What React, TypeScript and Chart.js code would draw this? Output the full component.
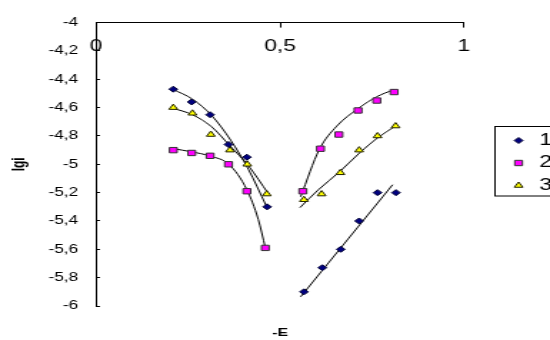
import React, { useEffect, useRef } from "react";
import { Chart, registerables } from "chart.js";
import { drawPoint } from "chart.js/helpers";

Chart.register(...registerables);

// ---- data ----
const seriesNames = ["1", "2", "3"];

const e1 = [0.21, 0.26, 0.31, 0.36, 0.41, 0.465, 0.565, 0.615, 0.665, 0.715, 0.765, 0.815];
const lg1 = [-4.47, -4.56, -4.65, -4.86, -4.95, -5.3, -5.9, -5.73, -5.6, -5.4, -5.2, -5.2];

const e2 = [0.21, 0.26, 0.31, 0.36, 0.41, 0.46, 0.562, 0.61, 0.66, 0.712, 0.763, 0.81];
const lg2 = [-4.9, -4.92, -4.94, -5.0, -5.19, -5.59, -5.19, -4.89, -4.79, -4.62, -4.55, -4.49];

const e3 = [0.21, 0.262, 0.312, 0.364, 0.411, 0.464, 0.565, 0.613, 0.664, 0.715, 0.765, 0.814];
const lg3 = [-4.6, -4.64, -4.79, -4.9, -5.0, -5.21, -5.25, -5.21, -5.06, -4.9, -4.8, -4.73];

// trend lines
const trend1aE = [0.208, 0.262, 0.314, 0.366, 0.414, 0.462];
const trend1aLg = [-4.47, -4.54, -4.655, -4.83, -5.035, -5.29];
const trend1bE = [0.556, 0.806];
const trend1bLg = [-5.935, -5.144];
const trend2aE = [0.208, 0.26, 0.31, 0.361, 0.41, 0.441, 0.46];
const trend2aLg = [-4.889, -4.912, -4.942, -5.0, -5.18, -5.39, -5.588];
const trend2bE = [0.556, 0.607, 0.654, 0.713, 0.763, 0.81];
const trend2bLg = [-5.229, -4.894, -4.731, -4.605, -4.523, -4.472];
const trend3aE = [0.21, 0.262, 0.314, 0.364, 0.414, 0.468];
const trend3aLg = [-4.605, -4.65, -4.735, -4.87, -5.01, -5.206];
const trend3bE = [0.554, 0.604, 0.663, 0.716, 0.767, 0.813];
const trend3bLg = [-5.306, -5.18, -5.05, -4.92, -4.81, -4.731];

const xTicks = [0, 0.5, 1];
const yTicks = [-6, -5.8, -5.6, -5.4, -5.2, -5, -4.8, -4.6, -4.4, -4.2, -4];

const xTitle = "-E";
const yTitle = "lgi";

const FONT = "'Liberation Sans', Arial, sans-serif";

const zip = (xs: number[], ys: number[]) => xs.map((x, i) => ({ x, y: ys[i] }));
const fmt = (v: number) => String(Math.round(v * 10) / 10).replace(".", ",");

const W = 385; // internal canvas width (stretched to 550 px by CSS)
const H = 340;

const legendPlugin = {
  id: "boxLegend",
  afterDraw(chart: any) {
    const ctx = chart.ctx;
    ctx.save();
    ctx.strokeStyle = "#000";
    ctx.lineWidth = 1;
    ctx.strokeRect(346.5, 126.5, 60, 69.5);
    const ys = [140.5, 163, 185.5];
    chart.data.datasets.slice(0, 3).forEach((ds: any, i: number) => {
      ctx.fillStyle = ds.backgroundColor;
      ctx.strokeStyle = ds.borderColor;
      ctx.lineWidth = 1;
      drawPoint(ctx, { pointStyle: ds.pointStyle, radius: ds.pointRadius, borderWidth: 1, rotation: 0 } as any, 363, ys[i]);
      ctx.fillStyle = "#000";
      ctx.font = `16px ${FONT}`;
      ctx.textBaseline = "middle";
      ctx.textAlign = "left";
      ctx.fillText(ds.label, 377.5, ys[i]);
    });
    ctx.restore();
  },
};

export default function App() {
  const ref = useRef<HTMLCanvasElement>(null);

  useEffect(() => {
    const canvas = ref.current;
    if (!canvas) return;
    Chart.defaults.color = "#000";
    Chart.defaults.font.family = FONT;

    const marker = (label: string, data: any[], style: string, radius: number, bg: string, border: string) => ({
      type: "scatter" as const,
      label,
      data,
      pointStyle: style,
      pointRadius: radius,
      pointHoverRadius: radius,
      backgroundColor: bg,
      borderColor: border,
      pointBorderWidth: 1,
      showLine: false,
      order: 0,
      xAxisID: "x",
      yAxisID: "y",
    });
    const trend = (data: any[]) => ({
      type: "line" as const,
      label: "",
      data,
      borderColor: "#000",
      borderWidth: 1,
      pointRadius: 0,
      fill: false,
      cubicInterpolationMode: "monotone" as const,
      order: 1,
      xAxisID: "x",
      yAxisID: "y",
    });

    const chart = new Chart(canvas, {
      type: "scatter",
      data: {
        datasets: [
          marker(seriesNames[0], zip(e1, lg1), "rectRot", 3, "#000080", "#000033"),
          marker(seriesNames[1], zip(e2, lg2), "rect", 3.8, "#FF00FF", "#333333"),
          marker(seriesNames[2], zip(e3, lg3), "triangle", 3.5, "#FFFF00", "#222200"),
          trend(zip(trend1aE, trend1aLg)),
          trend(zip(trend1bE, trend1bLg)),
          trend(zip(trend2aE, trend2aLg)),
          trend(zip(trend2bE, trend2bLg)),
          trend(zip(trend3aE, trend3aLg)),
          trend(zip(trend3bE, trend3bLg)),
        ] as any,
      },
      options: {
        responsive: false,
        animation: false,
        devicePixelRatio: 1,
        layout: { padding: { left: 0, right: W - 324.8, top: 0, bottom: 0 } },
        plugins: { legend: { display: false }, tooltip: { enabled: false }, title: { display: false } },
        scales: {
          x: {
            type: "linear",
            position: "top",
            min: 0,
            max: 1,
            afterBuildTicks: (s: any) => {
              s.ticks = xTicks.map((v) => ({ value: v }));
            },
            ticks: { mirror: true, padding: 14.4, font: { size: 16 }, callback: (v: any) => fmt(Number(v)), maxRotation: 0, autoSkip: false },
            grid: { drawOnChartArea: false, tickLength: -5, color: "#000", lineWidth: 1 },
            border: { color: "#000", width: 1 },
            afterFit: (s: any) => {
              s.height = 18;
            },
          },
          x2: {
            type: "linear",
            position: "bottom",
            min: 0,
            max: 1,
            ticks: { display: false },
            grid: { display: false },
            border: { display: false },
            title: { display: true, text: xTitle, font: { size: 11, weight: "bold" }, padding: 0 },
            afterFit: (s: any) => {
              s.height = 34;
            },
          },
          y: {
            type: "linear",
            min: -6,
            max: -4,
            afterBuildTicks: (s: any) => {
              s.ticks = yTicks.map((v) => ({ value: v }));
            },
            ticks: { padding: 15.4, font: { size: 12 }, callback: (v: any) => fmt(Number(v)), autoSkip: false },
            grid: { drawOnChartArea: false, tickLength: -2.8, color: "#000", lineWidth: 1 },
            border: { color: "#000", width: 1 },
            title: { display: true, text: yTitle, font: { size: 12, weight: "bold" }, padding: { top: 6, bottom: 0 } },
            afterFit: (s: any) => {
              s.width = 67.2;
            },
          },
        },
      } as any,
      plugins: [legendPlugin],
    });
    return () => chart.destroy();
  }, []);

  return (
    <div style={{ position: "absolute", left: 0, top: 0, width: 550, height: 340, background: "#fff" }}>
      <canvas ref={ref} width={W} height={H} style={{ width: "550px", height: "340px", display: "block" }} />
    </div>
  );
}
